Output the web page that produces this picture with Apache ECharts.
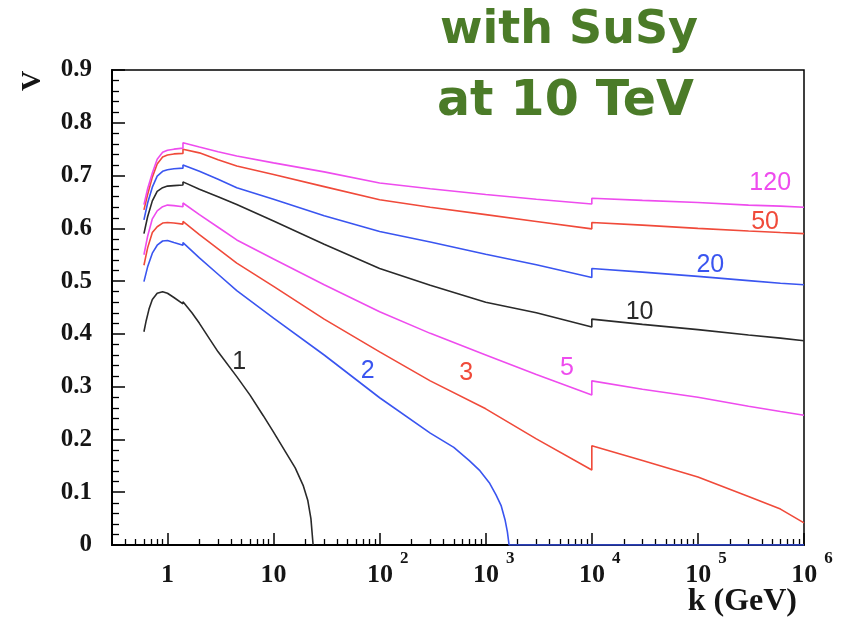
<!DOCTYPE html>
<html>
<head>
<meta charset="utf-8">
<script src="https://cdn.jsdelivr.net/npm/echarts@6/dist/echarts.min.js"></script>
<style>
  html, body { margin: 0; padding: 0; background: #fff; }
  #chart { width: 842px; height: 622px; }
</style>
</head>
<body>
<div id="chart"></div>
<script>
// Energy grid k (GeV) shared by the upper curves; the step at k = 1.4 and
// at k = 1e4 is drawn as two points at the same k.
const kGrid = [0.6, 0.65, 0.72, 0.8, 0.9, 1.0, 1.15, 1.4, 1.4, 2, 3, 4.5, 10, 30, 100, 300, 1000, 3000, 1e4, 1e4, 3e4, 1e5, 3e5, 6e5, 1e6];

const v120 = [0.645, 0.675, 0.705, 0.731, 0.744, 0.748, 0.750, 0.752, 0.762, 0.754, 0.745, 0.737, 0.724, 0.707, 0.686, 0.675, 0.664, 0.655, 0.646, 0.657, 0.653, 0.649, 0.644, 0.642, 0.640];
const v50  = [0.635, 0.664, 0.697, 0.722, 0.735, 0.739, 0.741, 0.742, 0.750, 0.743, 0.730, 0.718, 0.702, 0.679, 0.654, 0.640, 0.626, 0.613, 0.599, 0.611, 0.606, 0.600, 0.595, 0.592, 0.590];
const v20  = [0.616, 0.648, 0.678, 0.699, 0.708, 0.711, 0.713, 0.714, 0.720, 0.708, 0.693, 0.677, 0.655, 0.624, 0.594, 0.574, 0.551, 0.531, 0.507, 0.524, 0.517, 0.509, 0.501, 0.496, 0.493];
const v10  = [0.590, 0.622, 0.652, 0.670, 0.677, 0.680, 0.681, 0.682, 0.688, 0.674, 0.660, 0.645, 0.614, 0.570, 0.524, 0.492, 0.460, 0.440, 0.413, 0.428, 0.418, 0.408, 0.398, 0.392, 0.387];
const v5   = [0.550, 0.585, 0.618, 0.633, 0.641, 0.644, 0.643, 0.641, 0.648, 0.626, 0.602, 0.578, 0.542, 0.493, 0.442, 0.401, 0.360, 0.323, 0.284, 0.311, 0.295, 0.280, 0.263, 0.253, 0.246];
const v3   = [0.530, 0.563, 0.592, 0.603, 0.610, 0.611, 0.610, 0.608, 0.613, 0.588, 0.561, 0.534, 0.490, 0.428, 0.366, 0.311, 0.258, 0.201, 0.142, 0.188, 0.160, 0.129, 0.092, 0.068, 0.042];

// Curve 2 falls to zero near k = 1.7e3 and stays there.
const k2 = [0.6, 0.65, 0.72, 0.8, 0.9, 1.0, 1.15, 1.4, 1.4, 2, 3, 4.5, 10, 30, 100, 300, 500, 700, 870, 1080, 1250, 1400, 1520, 1600, 1660, 1e6];
const v2 = [0.499, 0.527, 0.553, 0.568, 0.576, 0.577, 0.573, 0.568, 0.573, 0.544, 0.513, 0.482, 0.430, 0.360, 0.279, 0.212, 0.185, 0.160, 0.142, 0.118, 0.095, 0.074, 0.048, 0.025, 0, 0];

// Curve 1 ends at zero near k = 24.
const k1 = [0.6, 0.63, 0.67, 0.72, 0.8, 0.9, 1.0, 1.15, 1.4, 1.4, 1.7, 2, 2.5, 3, 4.5, 6, 8, 10, 13, 16, 19, 21, 22.5, 23.6];
const v1 = [0.404, 0.425, 0.447, 0.465, 0.477, 0.480, 0.477, 0.469, 0.457, 0.461, 0.440, 0.420, 0.390, 0.366, 0.319, 0.284, 0.245, 0.214, 0.176, 0.146, 0.113, 0.085, 0.050, 0];

const curveNames = ['1', '2', '3', '5', '10', '20', '50', '120'];
const yTickLabels = ['0', '0.1', '0.2', '0.3', '0.4', '0.5', '0.6', '0.7', '0.8', '0.9'];
const xDecades = [0, 1, 2, 3, 4, 5, 6];

const lg = Math.log10;
const X_MIN = lg(0.3), X_MAX = 6;

// where each curve's number is written, as [k, V]
const labelAt = [[4.74, 0.347], [77, 0.330], [656, 0.326], [5820, 0.335], [28200, 0.441], [131000, 0.530], [430000, 0.612], [480000, 0.686]];

const colors = {
  black: '#2a2a2a',
  blue: '#3a55f0',
  red: '#f04a3a',
  magenta: '#ee4cee'
};

const curves = [
  { name: '1',   k: k1,    v: v1,   color: colors.black },
  { name: '2',   k: k2,    v: v2,   color: colors.blue },
  { name: '3',   k: kGrid, v: v3,   color: colors.red },
  { name: '5',   k: kGrid, v: v5,   color: colors.magenta },
  { name: '10',  k: kGrid, v: v10,  color: colors.black },
  { name: '20',  k: kGrid, v: v20,  color: colors.blue },
  { name: '50',  k: kGrid, v: v50,  color: colors.red },
  { name: '120', k: kGrid, v: v120, color: colors.magenta }
];

// minor ticks of the logarithmic k axis: 2..9 times each power of ten
const minorTicks = [];
for (let d = -1; d <= 5; d++) {
  for (let n = 2; n <= 9; n++) {
    const t = lg(n) + d;
    if (t > X_MIN + 1e-9 && t < X_MAX) minorTicks.push(t);
  }
}

const serif = '"Liberation Serif", "DejaVu Serif", serif';
const labelFont = { fontFamily: serif, fontWeight: 'bold', color: '#151515' };

function xLabel(val) {
  const e = Math.round(val);
  if (e === 0) return '{b|1}';
  if (e === 1) return '{b|10}';
  return '{bx|10}{s|' + e + '}';
}

const series = curves.map((c, i) => ({
  type: 'line',
  name: c.name,
  xAxisIndex: 0,
  yAxisIndex: 0,
  data: c.k.map((k, j) => [lg(k), c.v[j]]),
  showSymbol: false,
  symbol: 'none',
  lineStyle: { color: c.color, width: 1.6 },
  itemStyle: { color: c.color },
  emphasis: { disabled: true },
  animation: false,
  z: 3,
  markPoint: {
    symbol: 'circle',
    symbolSize: 0,
    animation: false,
    data: [{ coord: [lg(labelAt[i][0]), labelAt[i][1]], value: curveNames[i] }],
    label: {
      show: true,
      position: 'inside',
      formatter: curveNames[i],
      color: c.color,
      fontFamily: '"Liberation Sans", Arial, sans-serif',
      fontSize: 25
    }
  }
}));

const chart = echarts.init(document.getElementById('chart'), null, { renderer: 'canvas' });

chart.setOption({
  animation: false,
  backgroundColor: '#fff',
  grid: {
    left: 112, right: 38, top: 70, bottom: 77,
    show: true, borderColor: '#000', borderWidth: 1.5, backgroundColor: 'transparent'
  },
  xAxis: [
    {
      type: 'value',
      min: X_MIN, max: X_MAX,
      position: 'bottom',
      axisLine: { show: true, onZero: false, lineStyle: { color: '#000', width: 2 } },
      axisTick: { show: true, inside: true, length: 12, customValues: xDecades, lineStyle: { color: '#000', width: 1.5 } },
      axisLabel: {
        show: true,
        customValues: xDecades,
        margin: 11,
        formatter: xLabel,
        rich: {
          b:  Object.assign({ fontSize: 26, lineHeight: 26, padding: [12, 0, 0, 0] }, labelFont),
          bx: Object.assign({ fontSize: 26, lineHeight: 26, padding: [12, 0, 0, 16] }, labelFont),
          s:  Object.assign({ fontSize: 17, lineHeight: 17, padding: [0, 0, 21, 7] }, labelFont)
        }
      },
      splitLine: { show: false }
    },
    {
      type: 'value',
      min: X_MIN, max: X_MAX,
      position: 'bottom',
      offset: 0,
      axisLine: { show: false },
      axisTick: { show: true, inside: true, length: 6, customValues: minorTicks, lineStyle: { color: '#000', width: 1.3 } },
      axisLabel: { show: false },
      splitLine: { show: false }
    }
  ],
  yAxis: {
    type: 'value',
    min: 0, max: 0.9, interval: 0.1,
    axisLine: { show: true, onZero: false, lineStyle: { color: '#000', width: 2 } },
    axisTick: { show: true, inside: true, length: 13, lineStyle: { color: '#000', width: 1.5 } },
    minorTick: { show: true, splitNumber: 5, length: 7, lineStyle: { color: '#000', width: 1.3 } },
    axisLabel: Object.assign({
      fontSize: 25, margin: 20,
      formatter: (val) => yTickLabels[Math.round(val * 10)]
    }, labelFont),
    splitLine: { show: false },
    minorSplitLine: { show: false }
  },
  graphic: [
    {
      type: 'text', x: 33, y: 81, rotation: Math.PI / 2,
      style: { text: 'V', align: 'center', verticalAlign: 'middle', font: 'bold 28px "Liberation Serif"', fill: '#151515' }
    },
    {
      type: 'text', x: 797, y: 602,
      style: { text: 'k (GeV)', align: 'right', verticalAlign: 'middle', font: 'bold 32px "Liberation Serif"', fill: '#151515' }
    },
    {
      type: 'text', x: 440, y: 31, z: 10,
      style: { text: 'with SuSy', align: 'left', verticalAlign: 'middle', font: 'bold 46px "DejaVu Sans"', fill: '#4b7b28' }
    },
    {
      type: 'text', x: 437, y: 102, z: 10,
      style: { text: 'at 10 TeV', align: 'left', verticalAlign: 'middle', font: 'bold 49px "DejaVu Sans"', fill: '#4b7b28' }
    }
  ],
  series: series
});
</script>
</body>
</html>
